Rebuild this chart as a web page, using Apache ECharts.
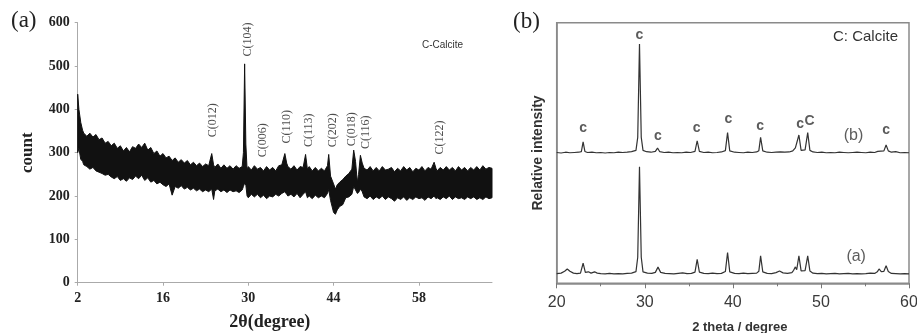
<!DOCTYPE html>
<html><head><meta charset="utf-8">
<script src="https://cdn.jsdelivr.net/npm/echarts@6/dist/echarts.min.js"></script>
<style>html,body{margin:0;padding:0;background:#fff}#c{width:917px;height:333px}</style>
</head><body><div id="c"></div>
<script>
// ---- Panel (a): XRD pattern read as band rows [2θ, lower edge, upper edge] ----
const patternA = [
[2.0,300,435],[2.2,310,400],[2.5,285,370],[2.8,280,352],[3.0,272,345],[3.5,268,338],[4.0,262,345],[4.5,266,336],
[5.0,258,342],[5.5,255,330],[6.0,252,334],[6.5,248,322],[7.0,250,326],[7.5,244,316],[8.0,240,322],[8.5,245,310],
[9.0,236,316],[9.5,240,304],[10.0,234,312],[10.5,242,302],[11.0,238,314],[11.5,246,310],[12.0,240,320],[12.5,248,312],
[13.0,236,322],[13.5,242,306],[14.0,232,312],[14.5,236,298],[15.0,228,304],[15.5,232,292],[16.0,226,298],[16.5,222,288],
[17.0,228,292],[17.5,202,282],[18.0,222,288],[18.5,218,278],[19.0,224,284],[19.5,216,276],[20.0,220,282],[20.5,214,272],
[21.0,218,278],[21.5,212,270],[22.0,216,276],[22.5,210,268],[23.0,214,274],[23.5,210,270],[24.0,216,298],[24.3,192,272],
[24.5,212,266],[25.0,216,274],[25.5,210,264],[26.0,214,272],[26.5,208,264],[27.0,214,270],[27.5,210,262],[28.0,212,270],
[28.5,208,264],[29.0,214,268],[29.2,222,300],[29.4,230,505],[29.6,225,320],[29.8,200,262],[30.0,196,268],[30.5,204,260],
[31.0,198,270],[31.5,204,262],[32.0,196,266],[32.5,202,258],[33.0,194,268],[33.5,200,260],[34.0,198,266],[34.5,204,258],
[35.0,200,270],[35.5,206,272],[36.0,210,298],[36.3,204,276],[36.5,200,268],[37.0,204,262],[37.5,198,270],[38.0,206,260],
[38.5,196,268],[39.0,204,266],[39.4,210,296],[39.7,196,262],[40.0,200,268],[40.5,194,258],[41.0,202,266],[41.5,196,258],
[42.0,200,264],[42.5,196,258],[43.0,206,270],[43.2,215,296],[43.5,190,246],[44.0,162,228],[44.3,158,216],[44.6,168,226],
[45.0,176,232],[45.5,180,238],[46.0,196,246],[46.5,198,252],[47.0,204,262],[47.3,222,306],[47.6,214,280],[47.9,206,232],
[48.1,208,250],[48.4,216,294],[48.7,210,276],[49.0,198,264],[49.5,194,260],[50.0,200,268],[50.5,192,258],[51.0,198,266],
[51.5,194,258],[52.0,200,268],[52.5,192,260],[53.0,198,262],[53.5,194,266],[54.0,188,256],[54.5,196,264],[55.0,192,258],
[55.5,198,268],[56.0,190,260],[56.5,196,266],[57.0,192,256],[57.5,198,264],[58.0,194,260],[58.5,196,268],[59.0,190,258],
[59.5,198,266],[60.0,194,262],[60.5,200,278],[60.8,194,264],[61.0,196,258],[61.5,192,266],[62.0,198,260],[62.5,194,268],
[63.0,200,260],[63.5,192,266],[64.0,198,258],[64.5,194,268],[65.0,196,260],[65.5,192,266],[66.0,198,258],[66.5,194,266],
[67.0,198,260],[67.5,192,268],[68.0,196,260],[68.5,192,270],[69.0,198,262],[69.5,194,266],[70.0,196,264]
];
const aTicks = [2, 16, 30, 44, 58];
const peakNamesA = ['C(012)','C(104)','C(006)','C(110)','C(113)','C(202)','C(018)','C(116)','C(122)'];
const peakPosA   = [24.2, 29.9, 32.4, 36.3, 39.9, 43.9, 47.0, 49.3, 61.4];
const peakLabelYA= [375, 561, 329, 360, 352, 352, 354, 347, 335];

// ---- Panel (b): two patterns, relative intensity (offset) ----
const traceB = [
[20,50.2],[20.5,50.0],[21,50.3],[21.5,50.1],[22,50.2],[22.5,50.3],[22.8,50.5],[23.0,54.3],[23.2,50.6],[23.5,50.2],
[24,50.3],[24.5,50.1],[25,50.2],[25.5,50.0],[26,50.2],[26.5,50.1],[27,50.3],[27.5,50.2],[28,50.3],[28.5,50.5],
[29.0,51.0],[29.2,56],[29.4,91.8],[29.6,56],[29.8,51.0],[30.2,50.5],[30.7,50.3],[31.2,50.6],[31.45,51.9],[31.7,50.5],
[32.2,50.2],[32.7,50.3],[33.2,50.1],[33.7,50.2],[34.2,50.1],[34.7,50.3],[35.2,50.2],[35.7,50.6],[35.95,54.7],[36.2,50.6],
[36.7,50.2],[37.2,50.3],[37.7,50.1],[38.2,50.2],[38.7,50.4],[39.15,50.9],[39.4,57.8],[39.65,50.8],[40.2,50.3],[40.7,50.2],
[41.2,50.1],[41.7,50.3],[42.2,50.2],[42.7,50.4],[42.95,50.9],[43.15,56.0],[43.4,50.8],[43.9,50.3],[44.4,50.2],[44.9,50.3],
[45.4,50.4],[45.9,50.3],[46.4,50.4],[46.8,50.8],[47.1,52.0],[47.25,51.3],[47.5,56.9],[47.75,51.0],[47.95,50.9],[48.2,51.2],
[48.5,57.8],[48.75,51.0],[49.1,50.4],[49.6,50.2],[50.1,50.3],[50.6,50.1],[51.1,50.2],[51.6,50.1],[52.1,50.3],[52.6,50.2],
[53.1,50.1],[53.6,50.2],[54.1,50.3],[54.6,50.2],[55.1,50.1],[55.6,50.3],[56.1,50.2],[56.45,50.6],[56.6,51.3],[56.8,50.7],
[57.15,50.8],[57.4,53.1],[57.65,50.8],[58.0,50.3],[58.5,50.5],[59,50.1],[59.5,50.2],[60,50.1]
];
const traceA = [
[20,3.7],[20.5,3.9],[20.9,4.6],[21.2,5.5],[21.5,4.6],[21.9,3.9],[22.3,3.7],[22.7,3.9],[23.0,7.7],[23.25,4.2],
[23.6,4.4],[23.9,3.9],[24.3,4.4],[24.6,3.9],[25,3.7],[25.5,3.6],[26,3.8],[26.5,3.6],[27,3.7],[27.5,3.6],
[28,3.8],[28.5,3.9],[29.0,4.5],[29.2,10],[29.4,44.7],[29.6,10],[29.8,4.4],[30.3,3.9],[30.8,3.8],[31.2,4.2],
[31.5,6.2],[31.8,4.2],[32.3,3.8],[32.8,3.7],[33.3,3.6],[33.8,3.8],[34.3,4.0],[34.8,3.7],[35.3,3.8],[35.7,4.3],
[35.95,9.2],[36.2,4.3],[36.7,3.8],[37.2,3.7],[37.7,3.9],[38.2,3.7],[38.7,3.8],[39.15,4.5],[39.4,11.8],[39.65,4.4],
[40.2,3.8],[40.7,3.7],[41.2,3.9],[41.7,3.7],[42.2,3.8],[42.7,3.9],[42.95,4.6],[43.15,10.5],[43.4,4.4],[43.9,3.8],
[44.4,3.7],[44.9,4.1],[45.3,4.7],[45.7,4.0],[46.2,3.8],[46.7,4.1],[46.9,5.0],[47.1,6.3],[47.25,5.2],[47.5,10.5],
[47.75,4.8],[47.95,4.6],[48.2,4.9],[48.5,10.5],[48.75,4.7],[49.1,3.9],[49.6,3.7],[50.1,3.8],[50.6,3.6],[51.1,3.7],
[51.6,3.8],[52.1,3.6],[52.6,3.7],[53.1,3.8],[53.6,3.6],[54.1,3.7],[54.6,3.6],[55.1,3.7],[55.6,3.9],[56.1,3.8],
[56.4,4.4],[56.6,5.5],[56.85,4.5],[57.15,4.6],[57.4,6.7],[57.65,4.5],[58.0,3.8],[58.5,3.7],[59,3.6],[59.5,3.7],[60,3.6]
];
const peakNamesB = ['c','c','c','c','c','c','c','C','c'];
const peakPosB   = [23.0, 29.4, 31.5, 35.9, 39.5, 43.1, 47.65, 48.7, 57.4];
const peakLabelYB= [59.5, 95.3, 56.5, 59.5, 62.9, 60.4, 61.1, 62.4, 58.8];
const traceNames = ['(b)','(a)'];
const traceLabelX = [53.7, 54.0];
const traceLabelY = [56.5, 10.2];

const SERIF = '"Liberation Serif","Times New Roman",serif';
const SANS = '"Liberation Sans",Arial,sans-serif';

const chart = echarts.init(document.getElementById('c'), null, {renderer:'canvas'});
const labelScatter = (xi, yi, names, xs, ys, style) => ({
  type:'scatter', xAxisIndex:xi, yAxisIndex:yi, symbolSize:1, itemStyle:{color:'rgba(0,0,0,0)'}, silent:true, z:5,
  data: names.map((n,i)=>({name:n, value:[xs[i], ys[i]]})),
  label:Object.assign({show:true, position:'inside', formatter:'{b}', align:'center', verticalAlign:'middle', textBorderWidth:0}, style)
});

chart.setOption({
  animation:false,
  grid:[
    {left:77.7, top:22.7, width:414.3, height:260, outerBoundsMode:'none', containLabel:false},
    {left:556.7, top:22.7, width:352.3, height:260.6, outerBoundsMode:'none', containLabel:false,
     show:true, borderColor:'#8a8a8a', borderWidth:1.5, backgroundColor:'transparent'}
  ],
  xAxis:[
    {type:'value', gridIndex:0, min:2, max:70,
     axisLine:{lineStyle:{color:'#aaa', width:1}},
     axisTick:{show:true, length:3, customValues:aTicks, lineStyle:{color:'#aaa'}},
     axisLabel:{customValues:aTicks, margin:9, color:'#222', fontFamily:SERIF, fontWeight:'bold', fontSize:14},
     splitLine:{show:false},
     name:'2θ(degree)', nameLocation:'middle', nameGap:31,
     nameTextStyle:{fontFamily:SERIF, fontWeight:'bold', fontSize:18, color:'#222', padding:[0,30,0,0]}},
    {type:'value', gridIndex:1, min:20, max:60, interval:10,
     axisLine:{lineStyle:{color:'#8a8a8a', width:1.5}},
     axisTick:{show:true, length:5, lineStyle:{color:'#777'}},
     minorTick:{show:true, splitNumber:2, length:3, lineStyle:{color:'#777'}},
     axisLabel:{margin:11, color:'#3a3a3a', fontFamily:SANS, fontSize:16},
     splitLine:{show:false},
     name:'2 theta / degree', nameLocation:'middle', nameGap:38,
     nameTextStyle:{fontFamily:SANS, fontWeight:'bold', fontSize:13, color:'#333', padding:[0,0,0,14]}}
  ],
  yAxis:[
    {type:'value', gridIndex:0, min:0, max:600, interval:100,
     axisLine:{show:true, lineStyle:{color:'#aaa', width:1}},
     axisTick:{show:true, length:3, lineStyle:{color:'#aaa'}},
     axisLabel:{margin:8, color:'#222', fontFamily:SERIF, fontWeight:'bold', fontSize:14},
     splitLine:{show:false},
     name:'count', nameLocation:'middle', nameRotate:90, nameGap:42,
     nameTextStyle:{fontFamily:SERIF, fontWeight:'bold', fontSize:17, color:'#222'}},
    {type:'value', gridIndex:1, min:0, max:100,
     axisLine:{show:true, lineStyle:{color:'#8a8a8a', width:1.5}},
     axisTick:{show:false}, axisLabel:{show:false}, splitLine:{show:false},
     name:'Relative intensity', nameLocation:'middle', nameRotate:90, nameGap:12,
     nameTextStyle:{fontFamily:SANS, fontWeight:'bold', fontSize:14, color:'#333'}}
  ],
  series:[
    {type:'custom', xAxisIndex:0, yAxisIndex:0, silent:true, z:3,
     data: patternA.map(r=>[r[0], r[1], r[2]]),
     encode:{x:0, y:[1,2]},
     renderItem:(params, api)=>{
       if (params.dataIndex !== 0) return null;
       const top = patternA.map(r=>api.coord([r[0], r[2]]));
       const bot = patternA.map(r=>api.coord([r[0], r[1]])).reverse();
       return {type:'polygon', shape:{points: top.concat(bot)},
               style:{fill:'#111', stroke:'#111', lineWidth:1}};
     }},
    labelScatter(0,0, peakNamesA, peakPosA, peakLabelYA, {rotate:90, fontFamily:SERIF, fontSize:12, color:'#222'}),
    {type:'line', xAxisIndex:1, yAxisIndex:1, symbol:'none', silent:true, data:traceB, lineStyle:{color:'#333', width:1.2}},
    {type:'line', xAxisIndex:1, yAxisIndex:1, symbol:'none', silent:true, data:traceA, lineStyle:{color:'#333', width:1.2}},
    labelScatter(1,1, peakNamesB, peakPosB, peakLabelYB, {fontFamily:SANS, fontSize:14, fontWeight:'bold', color:'#333'}),
    labelScatter(1,1, traceNames, traceLabelX, traceLabelY, {fontFamily:SANS, fontSize:16, color:'#333'})
  ],
  graphic:[
    {type:'text', left:11, top:9, style:{text:'(a)', font:'23px '+SERIF, fill:'#222'}},
    {type:'text', left:513, top:10, style:{text:'(b)', font:'23px '+SERIF, fill:'#222'}},
    {type:'text', left:422, top:40, style:{text:'C-Calcite', font:'10px '+SANS, fill:'#333'}},
    {type:'text', left:833, top:29, style:{text:'C: Calcite', font:'15px '+SANS, fill:'#333'}}
  ]
});
</script>
</body></html>
